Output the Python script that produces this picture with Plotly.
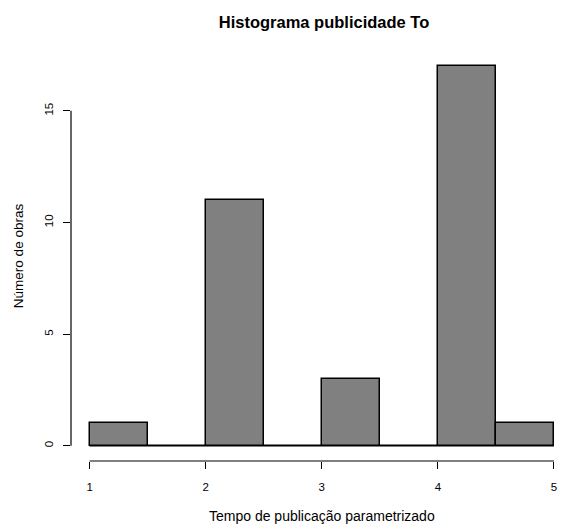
import plotly.graph_objects as go

bin_starts = [1.0, 1.5, 2.0, 2.5, 3.0, 3.5, 4.0, 4.5]
bin_width = 0.5
counts = [1, 0, 11, 0, 3, 0, 17, 1]
x_ticks = [1, 2, 3, 4, 5]
y_ticks = [0, 5, 10, 15]

centers = [s + bin_width / 2 for s in bin_starts]
edges_lo, edges_hi = bin_starts[0], bin_starts[-1] + bin_width

fig = go.Figure()
fig.add_trace(go.Scatter(
    x=[edges_lo, edges_hi], y=[0, 0], mode="lines",
    line=dict(color="black", width=1.5), hoverinfo="skip", showlegend=False))
fig.add_trace(go.Bar(
    x=centers, y=counts, width=bin_width,
    marker=dict(color="#808080", line=dict(color="black", width=1.5)),
    showlegend=False))

font = "Liberation Sans, Arial, sans-serif"
fig.update_layout(
    width=561, height=524,
    margin=dict(l=71, r=0, t=51, b=63),
    paper_bgcolor="white", plot_bgcolor="white",
    font=dict(family=font, size=11, color="black"),
    title=dict(text="<b>Histograma publicidade To</b>", x=324/561, xref="container",
               xanchor="center", y=1-22/524, yanchor="middle",
               font=dict(size=16.5, family=font, color="black")),
    bargap=0,
)
fig.update_xaxes(
    range=[0.84, 0.84 + (561 - 71.4) / 116], tickvals=x_ticks,
    showgrid=False, zeroline=False, showline=False,
    ticks="outside", ticklen=7, tickwidth=1.2, tickcolor="black",
    ticklabelstandoff=8, tickfont=dict(size=11.5),
)
fig.update_yaxes(
    range=[-0.68, 17.68], tickvals=y_ticks,
    showgrid=False, zeroline=False, showline=False,
    ticks="outside", ticklen=7, tickwidth=1.2, tickcolor="black",
    tickangle=-90, ticklabelstandoff=5, tickfont=dict(size=11.5),
    title=dict(text="Número de obras", standoff=16, font=dict(size=13.5)),
)
fig.add_annotation(text="Tempo de publicação parametrizado", xref="paper", yref="paper",
                   x=(322 - 71) / (561 - 71), y=-(516 - 461) / (461 - 51),
                   xanchor="center", yanchor="middle", showarrow=False,
                   font=dict(size=14, family=font, color="black"))
# R-style axis lines spanning the tick range
fig.add_shape(type="line", xref="x", yref="paper", x0=x_ticks[0], x1=x_ticks[-1],
              y0=0, y1=0, line=dict(color="black", width=1.2))
fig.add_shape(type="line", xref="paper", yref="y", x0=0, x1=0,
              y0=y_ticks[0], y1=y_ticks[-1], line=dict(color="black", width=1.2))

fig.write_html("out.html")
